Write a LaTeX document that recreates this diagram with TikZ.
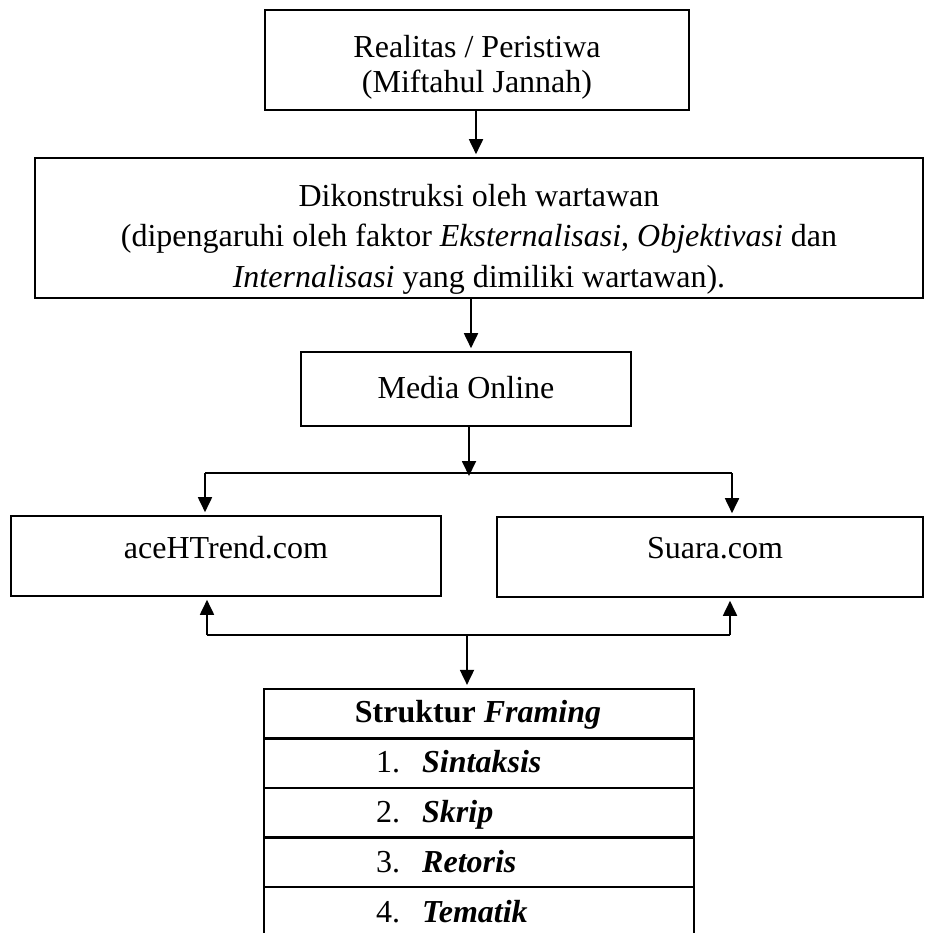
\documentclass[tikz,border=0pt]{standalone}
\usepackage{fontspec}
\setmainfont{Liberation Serif}
\usetikzlibrary{arrows.meta}
\begin{document}
\begin{tikzpicture}[x=1pt,y=-1pt,
  box/.style={draw=black,line width=1.6pt,rectangle,inner sep=0pt},
  trow/.style={draw=black,line width=2.2pt,rectangle,inner sep=0pt,minimum width=430pt,minimum height=49.5pt},
  txt/.style={inner sep=0pt,font=\fontsize{32}{36}\selectfont},
  conn/.style={line width=1.8pt},
  arr/.style={line width=1.8pt,-{Triangle[width=14pt,length=15pt]},shorten >=3pt}]
\clip (0,0) rectangle (925,933);
\fill[white] (0,0) rectangle (925,933);
% boxes
\node[box,minimum width=424pt,minimum height=100pt] (top) at (477,60) {};
\node[txt,anchor=base] (topA) at (477,58) {Realitas / Peristiwa};
\node[txt,anchor=base] (topB) at (477,93) {(Miftahul Jannah)};
\node[box,minimum width=888pt,minimum height=140pt] (kon) at (479,228) {};
\node[txt,anchor=base] (konA) at (479,207) {Dikonstruksi oleh wartawan};
\node[txt,anchor=base] (konB) at (479,247) {(dipengaruhi oleh faktor \textit{Eksternalisasi}, \textit{Objektivasi} dan};
\node[txt,anchor=base] (konC) at (479,287) {\textit{Internalisasi} yang dimiliki wartawan).};
\node[box,minimum width=330pt,minimum height=74pt] (media) at (466,389) {};
\node[txt,anchor=base] (mediaT) at (466,398) {Media Online};
\node[box,minimum width=430pt,minimum height=80pt] (ace) at (226,556) {};
\node[txt,anchor=base] (aceT) at (226,558) {aceHTrend.com};
\node[box,minimum width=426pt,minimum height=80pt] (suara) at (710,557) {};
\node[txt,anchor=base] (suaraT) at (715,558) {Suara.com};
% table
\node[trow] (r0) at (479,713.75) {};
\node[trow] (r1) at (479,763.25) {};
\node[trow] (r2) at (479,812.75) {};
\node[trow] (r3) at (479,862.25) {};
\node[trow] (r4) at (479,911.75) {};
\node[txt,anchor=base] (h0) at (478,722) {\textbf{Struktur \textit{Framing}}};
\node[txt,anchor=base west] (n1) at (376,772) {1.};
\node[txt,anchor=base west] (w1) at (422,772) {\textbf{\textit{Sintaksis}}};
\node[txt,anchor=base west] (n2) at (376,822) {2.};
\node[txt,anchor=base west] (w2) at (422,822) {\textbf{\textit{Skrip}}};
\node[txt,anchor=base west] (n3) at (376,872) {3.};
\node[txt,anchor=base west] (w3) at (422,872) {\textbf{\textit{Retoris}}};
\node[txt,anchor=base west] (n4) at (376,922) {4.};
\node[txt,anchor=base west] (w4) at (422,922) {\textbf{\textit{Tematik}}};
% junction coordinates
\coordinate (j1) at (469,473);
\coordinate (sL) at (205,473);
\coordinate (sR) at (732,473);
\coordinate (j2) at (467,635);
\coordinate (bL) at (207,635);
\coordinate (bR) at (730,635);
% connectors
\draw[arr] (top.south -| 476,0) -- (kon.north -| 476,0);
\draw[arr] (kon.south -| 471,0) -- (media.north -| 471,0);
\draw[arr,shorten >=0pt] (media.south -| j1) -- ([yshift=-3pt]j1);
\draw[conn] (sL) -- (sR);
\draw[arr] (sL) -- (sL |- ace.north);
\draw[arr] (sR) -- (sR |- suara.north);
\draw[conn] (bL) -- (bR);
\draw[arr] (bL) -- (bL |- ace.south);
\draw[arr] (bR) -- (bR |- suara.south);
\draw[arr] (j2) -- (j2 |- r0.north);
\end{tikzpicture}
\end{document}
